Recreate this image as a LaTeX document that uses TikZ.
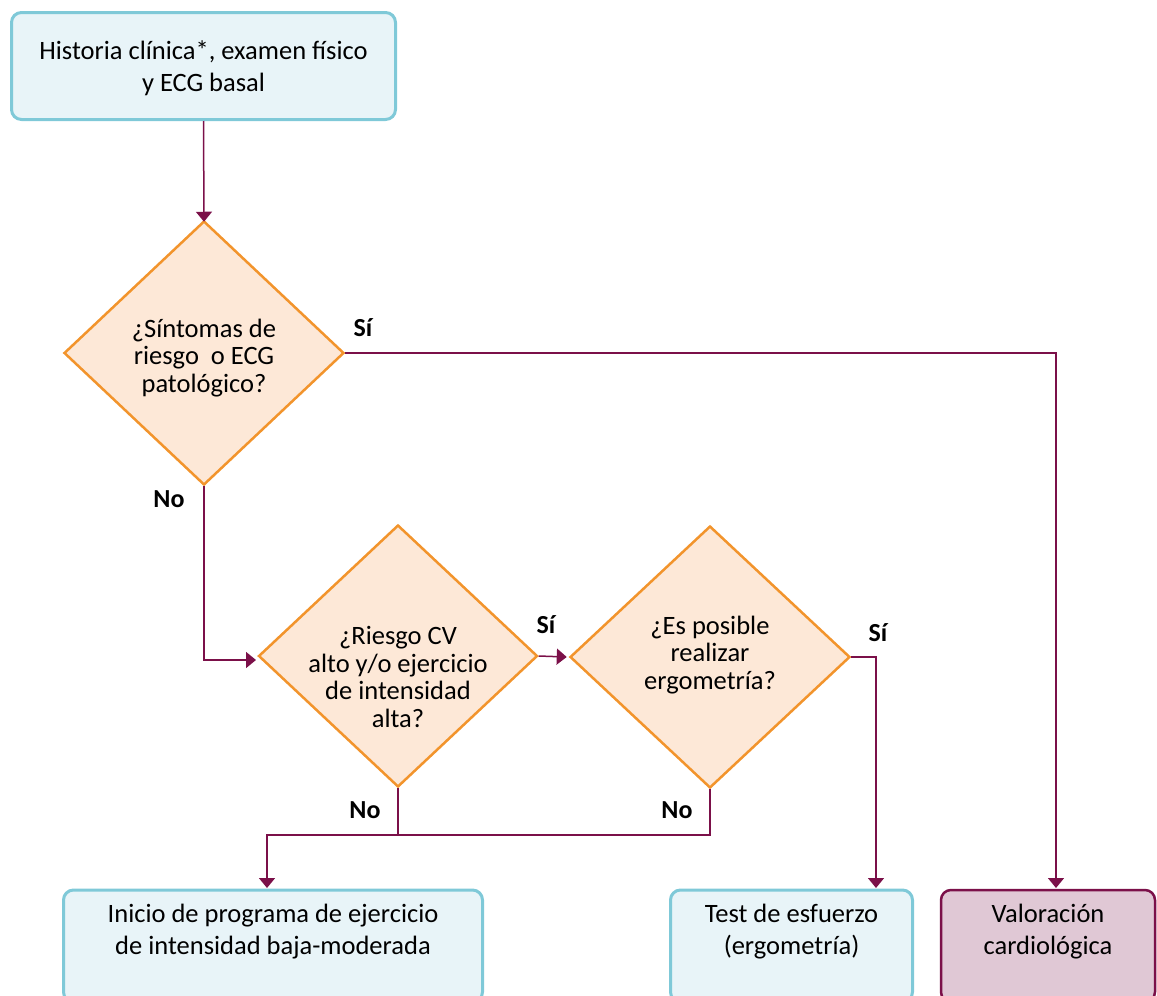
\documentclass[tikz,border=0pt]{standalone}
\usepackage{fontspec}
\setmainfont{Carlito}
\usetikzlibrary{shapes.geometric,arrows.meta}
\definecolor{boxfill}{HTML}{E8F4F8}
\definecolor{boxline}{HTML}{7FC9D8}
\definecolor{dfill}{HTML}{FDE8D7}
\definecolor{dline}{HTML}{F2942C}
\definecolor{vfill}{HTML}{E0C8D5}
\definecolor{vline}{HTML}{7B1049}
\definecolor{conn}{HTML}{7B1049}
\tikzset{
  x=1pt,y=-1pt,
  bluebox/.style={draw=boxline,fill=boxfill,line width=3pt,rounded corners=10pt,inner sep=0pt},
  valbox/.style={draw=vline,fill=vfill,line width=2.5pt,rounded corners=10pt,inner sep=0pt},
  dec/.style={diamond,draw=dline,fill=dfill,line width=2.5pt,inner sep=0pt,aspect=1},
  btxt/.style={align=center,font=\fontsize{26.5}{32}\selectfont,inner sep=0pt},
  dtxt/.style={align=center,font=\fontsize{26.5}{27.5}\selectfont,inner sep=0pt},
  lbl/.style={font=\fontsize{26}{30}\selectfont\bfseries,inner sep=0pt},
  conline/.style={draw=conn,line width=1.5pt},
  arr/.style={conline,-{Triangle[width=16pt,length=10pt]}},
}
\begin{document}
\begin{tikzpicture}
\useasboundingbox (0,0) rectangle (1157,996);
% boxes
\node[bluebox,minimum width=384pt,minimum height=107pt] (top) at (203.5,66) {};
\node[btxt] (toptxt) at (203.5,68) {Historia clínica*, examen físico\\y ECG basal};
\node[bluebox,minimum width=419pt,minimum height=112pt] (inicio) at (273,946) {};
\node[btxt] (iniciotxt) at (273,932) {Inicio de programa de ejercicio\\de intensidad baja-moderada};
\node[bluebox,minimum width=242pt,minimum height=112pt] (test) at (791.5,946) {};
\node[btxt] (testtxt) at (791.5,932) {Test de esfuerzo\\(ergometría)};
\node[valbox,minimum width=214pt,minimum height=112pt] (val) at (1048,946) {};
\node[btxt] (valtxt) at (1048,932) {Valoración\\cardiológica};
% diamonds
\node[dec,minimum width=280pt,minimum height=264pt] (d1) at (204,353) {};
\node[dtxt] (d1txt) at (204,358) {¿Síntomas de\\riesgo\ \ o ECG\\patológico?};
\node[dec,minimum width=279pt,minimum height=262pt] (d2) at (398,656) {};
\node[dtxt] (d2txt) at (398,677) {¿Riesgo CV\\alto y/o ejercicio\\de intensidad\\alta?};
\node[dec,minimum width=280pt,minimum height=262pt] (d3) at (710,657) {};
\node[dtxt] (d3txt) at (710,655) {¿Es posible\\realizar\\ergometría?};
% labels
\node[lbl] (s1) at (363,328) {Sí};
\node[lbl] (n1) at (169,499) {No};
\node[lbl] (s2) at (546,625) {Sí};
\node[lbl] (s3) at (878,633) {Sí};
\node[lbl] (n2) at (365,810) {No};
\node[lbl] (n3) at (677,810) {No};
% coordinates
\coordinate (c1) at (1056,353);
\coordinate (c1b) at (1056,888);
\coordinate (c3) at (876,657);
\coordinate (c3b) at (876,888);
\coordinate (j2) at (398,835);
\coordinate (j1) at (267,835);
\coordinate (j1b) at (267,888);
\coordinate (j3) at (710,835);
\coordinate (d2in) at (256,660);
% connectors
\draw[arr] (top.south) -- ([yshift=-2pt]d1.north);
\draw[arr] (d1.east) -- (c1) -- (c1b);
\draw[arr] (d1.south) |- (d2in);
\draw[arr] (d2.east) -- ([xshift=-2pt]d3.west);
\draw[arr] (d3.east) -- (c3) -- (c3b);
\draw[arr] (d2.south) -- (j2) -- (j1) -- (j1b);
\draw[conline] (d3.south) -- (j3) -- (j2);
\end{tikzpicture}
\end{document}
